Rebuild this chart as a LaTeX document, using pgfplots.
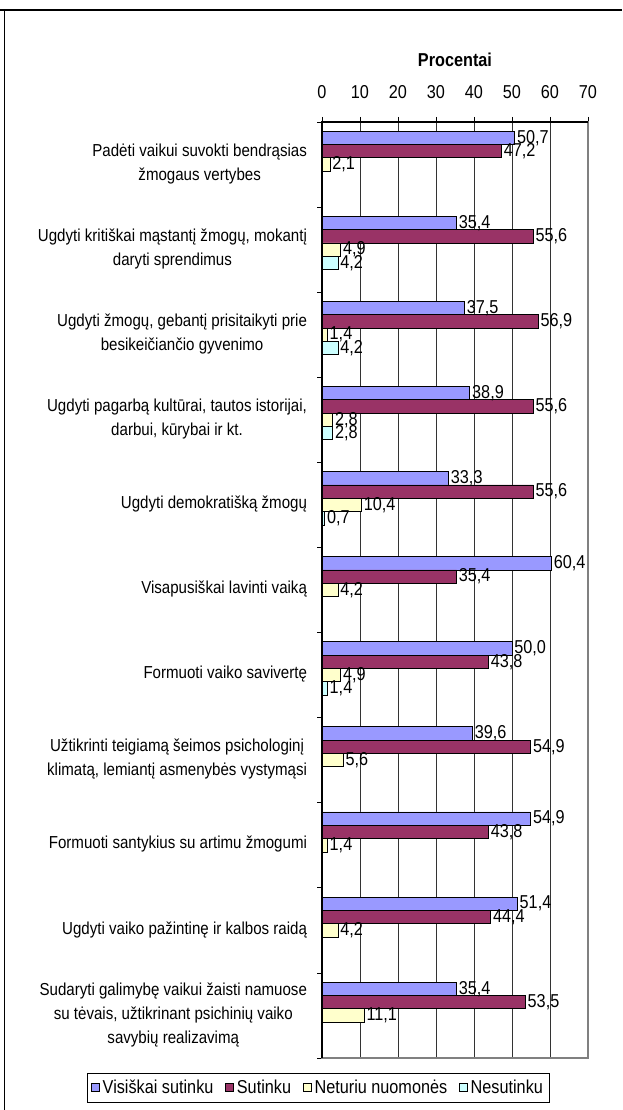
\documentclass[border=0pt]{standalone}
\usepackage{pgfplots}
\pgfplotsset{compat=1.18}
\usepackage{fontspec}
\setmainfont[FakeStretch=0.87]{Liberation Sans}

\definecolor{cBlue}{HTML}{9999FF}
\definecolor{cMaroon}{HTML}{993366}
\definecolor{cYellow}{HTML}{FFFFCC}
\definecolor{cCyan}{HTML}{CCFFFF}

\newcommand{\chartfont}{\fontsize{13pt}{18pt}\selectfont}
\newcommand{\valfont}{\fontsize{14pt}{16pt}\selectfont}

\begin{document}
\begin{tikzpicture}
% page frame (622x1110 px at 0.75pt/px)
\path[use as bounding box] (0pt,0pt) rectangle (466.5pt,832.5pt);
\draw[line width=1.5pt] (0pt,825pt) -- (466.5pt,825pt);
\draw[line width=0.6pt] (3pt,0pt) -- (3pt,825pt);

\begin{axis}[
  at={(241.5pt,39pt)}, anchor=south west,
  scale only axis, clip=false,
  width=199.5pt, height=702pt,
  xbar, bar width=10pt, area legend,
  legend image code/.code={\draw[#1] (0pt,-3pt) rectangle (6pt,3pt);},
  xmin=0, xmax=70, xtick={0,10,...,70},
  ymin=-0.5, ymax=10.5,
  ytick={-0.5,0.5,...,10.5},
  yticklabels={
    {Sudaryti galimybę vaikui žaisti namuose\\su tėvais, užtikrinant psichinių vaiko\\savybių realizavimą},
    {Ugdyti vaiko pažintinę ir kalbos raidą},
    {Formuoti santykius su artimu žmogumi},
    {Užtikrinti teigiamą šeimos psichologinį\\klimatą, lemiantį asmenybės vystymąsi},
    {Formuoti vaiko savivertę},
    {Visapusiškai lavinti vaiką},
    {Ugdyti demokratišką žmogų},
    {Ugdyti pagarbą kultūrai, tautos istorijai,\\darbui, kūrybai ir kt.},
    {Ugdyti žmogų, gebantį prisitaikyti prie\\besikeičiančio gyvenimo},
    {Ugdyti kritiškai mąstantį žmogų, mokantį\\daryti sprendimus},
    {Padėti vaikui suvokti bendrąsias\\žmogaus vertybes},
    {}},
  y tick label style={align=center, font=\chartfont, yshift=32.5pt, xshift=-4pt},
  x tick label style={font=\valfont, yshift=10.5pt},
  /pgf/number format/assume math mode=true,
  xtick pos=right, xticklabel pos=right,
  ytick pos=left,
  tick align=outside,
  major tick length=3.75pt,
  tick style={black, line width=0.6pt},
  xmajorgrids,
  grid style={black!80, line width=0.5pt},
  axis line style={black!50, line width=1pt},
  nodes near coords={\pgfmathprintnumber[fixed,fixed zerofill,precision=1,use comma]{\pgfplotspointmeta}},
  nodes near coords style={font=\valfont, black, inner sep=1.5pt},
  legend columns=4,
  legend style={at={(-0.8835,-0.016)}, anchor=north west, draw=black,
    font=\valfont, inner sep=3pt,
    /tikz/every even column/.append style={column sep=7pt}},
  legend cell align=left,
]
\addplot[draw=black, line width=0.6pt, fill=cBlue, bar shift=20pt] coordinates {
  (50.7,10) (35.4,9) (37.5,8) (38.9,7) (33.3,6) (60.4,5)
  (50.0,4) (39.6,3) (54.9,2) (51.4,1) (35.4,0)
};
\addplot[draw=black, line width=0.6pt, fill=cMaroon, bar shift=10pt] coordinates {
  (47.2,10) (55.6,9) (56.9,8) (55.6,7) (55.6,6) (35.4,5)
  (43.8,4) (54.9,3) (43.8,2) (44.4,1) (53.5,0)
};
\addplot[draw=black, line width=0.6pt, fill=cYellow, bar shift=0pt] coordinates {
  (2.1,10) (4.9,9) (1.4,8) (2.8,7) (10.4,6) (4.2,5)
  (4.9,4) (5.6,3) (1.4,2) (4.2,1) (11.1,0)
};
\addplot[draw=black, line width=0.6pt, fill=cCyan, bar shift=-10pt] coordinates {
  (4.2,9) (4.2,8) (2.8,7) (0.7,6) (1.4,4)
};
\legend{Visiškai sutinku, Sutinku, Neturiu nuomonės, Nesutinku}
% black top and left axis lines over the grey box
\draw[black, line width=1pt] (rel axis cs:0,0) -- (rel axis cs:0,1) -- (rel axis cs:1,1);
\node[font=\valfont\bfseries] at (rel axis cs:0.5,1) [yshift=46.5pt] {Procentai};
\end{axis}
\end{tikzpicture}
\end{document}
